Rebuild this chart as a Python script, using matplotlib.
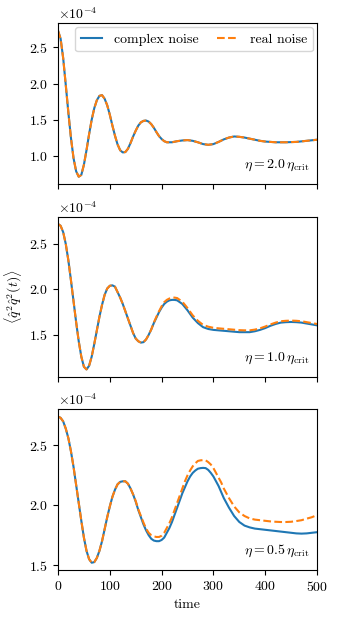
import numpy as np
import matplotlib
import matplotlib.pyplot as plt

matplotlib.use('Agg')

plt.rcParams['font.family'] = 'serif'
plt.rcParams['font.serif'] = ['cmr10']
plt.rcParams['mathtext.fontset'] = 'cm'
plt.rcParams['axes.formatter.use_mathtext'] = True
plt.rcParams['axes.unicode_minus'] = False
plt.rcParams['font.size'] = 10

# values in units of 1e-4
t_top = [0, 5, 10, 15, 20, 25, 30, 35, 40, 45, 50, 55, 60, 65, 70, 75, 80, 85, 90,
         95, 100, 105, 110, 115, 120, 125, 130, 135, 140, 145, 150, 155, 160, 165,
         170, 175, 180, 185, 190, 195, 200, 205, 210, 220, 230, 240, 250, 260, 270,
         280, 290, 300, 310, 320, 330, 340, 350, 360, 370, 380, 390, 400, 420, 440,
         460, 480, 500]
top_complex = [2.73, 2.62, 2.35, 1.98, 1.60, 1.25, 0.97, 0.79, 0.715, 0.74, 0.88,
               1.08, 1.30, 1.50, 1.66, 1.77, 1.83, 1.84, 1.79, 1.70, 1.57, 1.42, 1.28,
               1.16, 1.08, 1.05, 1.055, 1.10, 1.18, 1.27, 1.35, 1.42, 1.465, 1.485,
               1.49, 1.475, 1.44, 1.39, 1.33, 1.275, 1.235, 1.205, 1.19, 1.19, 1.205,
               1.215, 1.22, 1.21, 1.19, 1.165, 1.155, 1.165, 1.195, 1.23, 1.255, 1.27,
               1.265, 1.255, 1.24, 1.225, 1.21, 1.20, 1.19, 1.19, 1.195, 1.21, 1.225]
top_real = list(top_complex)

t_mid = [0, 5, 10, 15, 20, 25, 30, 35, 40, 45, 50, 55, 60, 65, 70, 75, 80, 85, 90,
         95, 100, 105, 110, 115, 120, 125, 130, 135, 140, 145, 150, 155, 160, 165,
         170, 175, 180, 185, 190, 195, 200, 205, 210, 215, 220, 225, 230, 240, 250,
         260, 270, 280, 290, 300, 310, 320, 330, 340, 350, 360, 370, 380, 390, 400,
         410, 420, 430, 440, 450, 460, 470, 480, 490, 500]
mid_complex = [2.72, 2.70, 2.63, 2.50, 2.32, 2.10, 1.87, 1.64, 1.43, 1.26, 1.15, 1.12,
               1.16, 1.26, 1.40, 1.55, 1.70, 1.83, 1.94, 2.01, 2.04, 2.045, 2.03, 1.97,
               1.91, 1.84, 1.76, 1.68, 1.60, 1.52, 1.46, 1.43, 1.415, 1.42, 1.45, 1.50,
               1.56, 1.63, 1.69, 1.75, 1.80, 1.84, 1.865, 1.88, 1.885, 1.885, 1.88,
               1.84, 1.77, 1.69, 1.63, 1.585, 1.565, 1.555, 1.55, 1.545, 1.54, 1.535,
               1.53, 1.53, 1.53, 1.54, 1.555, 1.575, 1.60, 1.62, 1.635, 1.64, 1.642,
               1.64, 1.635, 1.625, 1.615, 1.605]
mid_real = [2.72, 2.70, 2.63, 2.50, 2.32, 2.10, 1.87, 1.64, 1.43, 1.26, 1.15, 1.12,
            1.16, 1.26, 1.40, 1.55, 1.70, 1.83, 1.94, 2.01, 2.04, 2.045, 2.03, 1.97,
            1.91, 1.84, 1.76, 1.68, 1.60, 1.52, 1.46, 1.43, 1.415, 1.42, 1.45, 1.50,
            1.56, 1.635, 1.70, 1.76, 1.815, 1.86, 1.885, 1.90, 1.91, 1.91, 1.905,
            1.865, 1.795, 1.715, 1.655, 1.61, 1.59, 1.578, 1.572, 1.567, 1.562, 1.557,
            1.552, 1.55, 1.55, 1.558, 1.572, 1.592, 1.615, 1.635, 1.65, 1.655, 1.657,
            1.655, 1.65, 1.64, 1.63, 1.62]

t_bot = [0, 5, 10, 15, 20, 25, 30, 35, 40, 45, 50, 55, 60, 65, 70, 75, 80, 85, 90,
         95, 100, 105, 110, 115, 120, 125, 130, 135, 140, 145, 150, 155, 160, 165,
         170, 175, 180, 185, 190, 195, 200, 205, 210, 215, 220, 225, 230, 235, 240,
         245, 250, 255, 260, 265, 270, 275, 280, 285, 290, 295, 300, 305, 310, 315,
         320, 325, 330, 340, 350, 360, 370, 380, 390, 400, 410, 420, 430, 440, 450,
         460, 470, 480, 490, 500]
bot_complex = [2.74, 2.73, 2.70, 2.64, 2.56, 2.45, 2.32, 2.17, 2.02, 1.87, 1.73, 1.62,
               1.55, 1.52, 1.525, 1.56, 1.62, 1.70, 1.80, 1.90, 1.99, 2.07, 2.13, 2.175,
               2.195, 2.20, 2.20, 2.18, 2.14, 2.09, 2.03, 1.96, 1.90, 1.84, 1.79, 1.75,
               1.72, 1.705, 1.70, 1.70, 1.71, 1.73, 1.77, 1.81, 1.86, 1.92, 1.98, 2.04,
               2.10, 2.15, 2.20, 2.24, 2.27, 2.29, 2.305, 2.31, 2.312, 2.31, 2.295,
               2.27, 2.24, 2.20, 2.16, 2.11, 2.06, 2.02, 1.98, 1.91, 1.86, 1.83, 1.815,
               1.805, 1.80, 1.795, 1.79, 1.785, 1.78, 1.775, 1.77, 1.765, 1.763, 1.765,
               1.77, 1.775]
bot_real = [2.74, 2.73, 2.70, 2.64, 2.56, 2.45, 2.32, 2.17, 2.02, 1.87, 1.73, 1.62,
            1.55, 1.52, 1.525, 1.56, 1.62, 1.70, 1.80, 1.90, 1.99, 2.07, 2.13, 2.175,
            2.195, 2.20, 2.20, 2.18, 2.14, 2.09, 2.035, 1.965, 1.91, 1.855, 1.805,
            1.77, 1.75, 1.74, 1.735, 1.735, 1.745, 1.77, 1.81, 1.85, 1.90, 1.96, 2.02,
            2.08, 2.14, 2.20, 2.25, 2.29, 2.325, 2.35, 2.37, 2.375, 2.377, 2.375,
            2.36, 2.34, 2.31, 2.27, 2.23, 2.19, 2.14, 2.10, 2.06, 1.99, 1.94, 1.91,
            1.89, 1.88, 1.875, 1.87, 1.865, 1.862, 1.86, 1.86, 1.862, 1.868, 1.875,
            1.888, 1.90, 1.918]

panels = [
    (t_top, top_complex, top_real, r'$\eta = 2.0\,\eta_{\rm crit}$'),
    (t_mid, mid_complex, mid_real, r'$\eta = 1.0\,\eta_{\rm crit}$'),
    (t_bot, bot_complex, bot_real, r'$\eta = 0.5\,\eta_{\rm crit}$'),
]

fig = plt.figure(figsize=(3.38, 6.2), dpi=100)
boxes = [(0.1716, 0.7032, 0.7664, 0.2592),
         (0.1716, 0.3924, 0.7664, 0.2581),
         (0.1716, 0.0806, 0.7664, 0.2592)]

axes = []
for i, (t, yc, yr, lab) in enumerate(panels):
    ax = fig.add_axes(boxes[i])
    ax.plot(t, np.array(yc) * 1e-4, color='C0', label='complex noise')
    ax.plot(t, np.array(yr) * 1e-4, color='C1', ls='--', label='real noise')
    ax.set_xlim(0, 500)
    ax.set_xticks([0, 100, 200, 300, 400, 500])
    ax.ticklabel_format(axis='y', style='sci', scilimits=(0, 0), useMathText=True)
    ax.text(0.97, 0.07, lab, transform=ax.transAxes, ha='right', va='bottom')
    if i < 2:
        ax.set_xticklabels([])
    axes.append(ax)

axes[0].set_yticks(np.array([1.0, 1.5, 2.0, 2.5]) * 1e-4)
axes[1].set_yticks(np.array([1.5, 2.0, 2.5]) * 1e-4)
axes[2].set_yticks(np.array([1.5, 2.0, 2.5]) * 1e-4)

axes[0].legend(loc='upper right', ncol=2, fontsize=10, handlelength=1.5,
               handletextpad=0.9, columnspacing=1.3, borderaxespad=0.3)
axes[1].set_ylabel(r'$\langle \hat{q}^2 \hat{q}^2(t) \rangle$')
axes[2].set_xlabel('time')

fig.savefig('out.png', dpi=100)
